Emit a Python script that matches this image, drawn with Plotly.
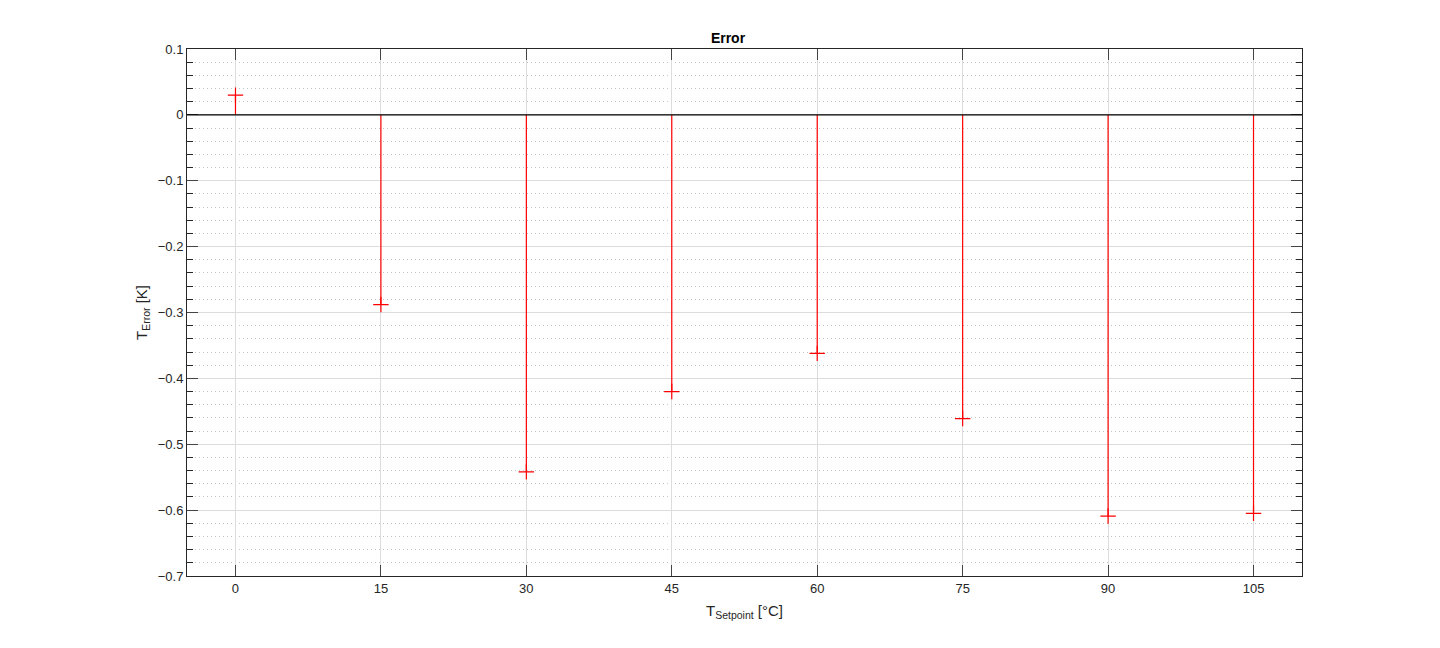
import plotly.graph_objects as go

setpoints = [0, 15, 30, 45, 60, 75, 90, 105]
errors = [0.030, -0.288, -0.542, -0.420, -0.362, -0.461, -0.609, -0.605]

# stem lines from baseline 0 to each value
stem_x, stem_y = [], []
for x, y in zip(setpoints, errors):
    stem_x += [x, x, None]
    stem_y += [0, y, None]

fig = go.Figure()
fig.add_trace(go.Scatter(x=stem_x, y=stem_y, mode='lines',
                         line=dict(color='red', width=1.2), hoverinfo='skip'))
fig.add_trace(go.Scatter(x=setpoints, y=errors, mode='markers',
                         marker=dict(symbol='cross-thin', size=11,
                                     line=dict(color='red', width=1.2))))

# stem baseline across the full axes width
fig.add_shape(type='line', xref='paper', x0=0, x1=1, yref='y', y0=0, y1=0,
              line=dict(color='black', width=1.2), layer='above')

axis_col = '#262626'
# page body adds an 8px offset, margins compensate for it
fig.update_layout(
    width=1440, height=648,
    paper_bgcolor='white', plot_bgcolor='white',
    showlegend=False,
    margin=dict(l=179, r=146, t=41, b=80),
    font=dict(family='Liberation Sans, Arial, sans-serif', color=axis_col, size=12),
    title=dict(text='<b>Error</b>', x=0.5, xanchor='center', y=0.954, yanchor='middle',
               font=dict(size=14, color='black')),
)
fig.update_xaxes(
    range=[-5, 110], tickvals=setpoints, ticks='inside', ticklen=11,
    showline=True, linecolor=axis_col, linewidth=1, mirror='ticks',
    showgrid=True, gridcolor='#dcdcdc', gridwidth=1, zeroline=False,
    tickfont=dict(size=13),
    title=dict(text='T<sub>Setpoint</sub> [°C]', font=dict(size=15), standoff=10),
)
fig.update_yaxes(
    range=[-0.7, 0.1], dtick=0.1, ticks='inside', ticklen=11,
    showline=True, linecolor=axis_col, linewidth=1, mirror='ticks',
    showgrid=True, gridcolor='#dcdcdc', gridwidth=1, zeroline=False,
    tickfont=dict(size=13),
    minor=dict(dtick=0.02, ticks='inside', ticklen=6, tickcolor=axis_col,
               showgrid=True, griddash='1px,3px', gridcolor='#c4c4c4', gridwidth=1),
    title=dict(text='T<sub>Error</sub> [K]', font=dict(size=15), standoff=6),
)

fig.write_html('out.html')
